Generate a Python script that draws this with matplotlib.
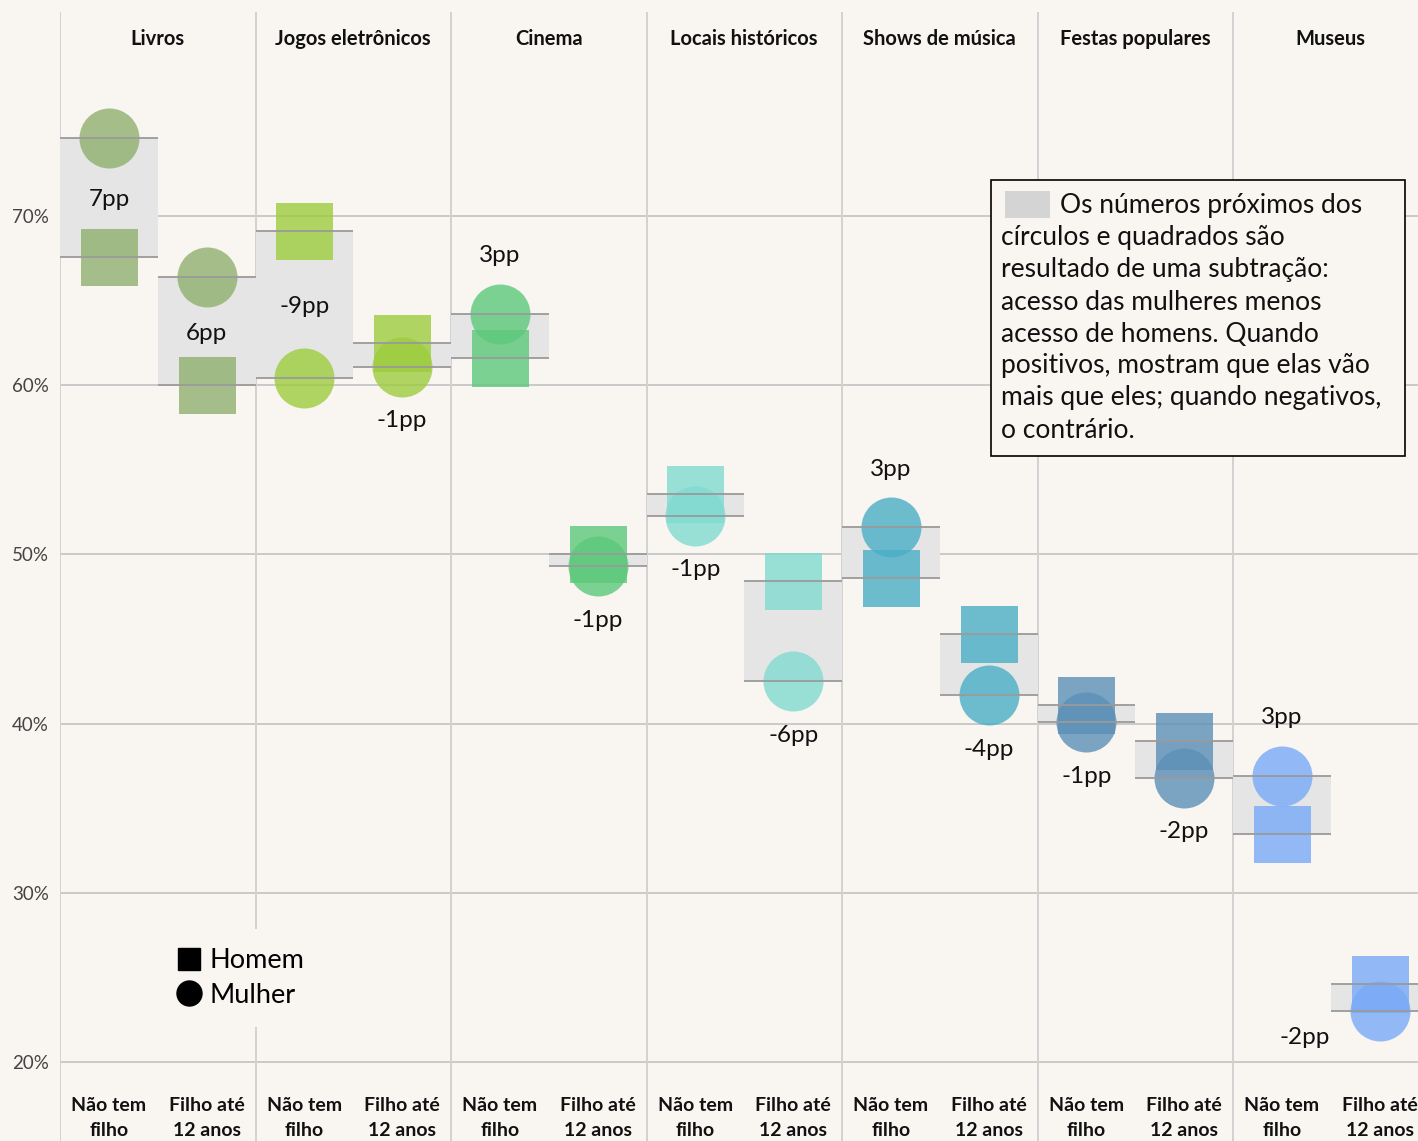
import matplotlib
matplotlib.use('Agg')
import matplotlib.pyplot as plt
from matplotlib.patches import Rectangle
from matplotlib.lines import Line2D

# dados
categorias = ['Livros', 'Jogos eletrônicos', 'Cinema', 'Locais históricos',
              'Shows de música', 'Festas populares', 'Museus']
grupos = ['Não tem\nfilho', 'Filho até\n12 anos']

# acesso (%) -> [não tem filho, filho até 12 anos]
homem = [[67.6, 60.0], [69.1, 62.5], [61.6, 50.0], [53.6, 48.4],
         [48.6, 45.3], [41.1, 39.0], [33.5, 24.6]]
mulher = [[74.6, 66.4], [60.4, 61.1], [64.2, 49.3], [52.3, 42.5],
          [51.6, 41.7], [40.1, 36.8], [36.9, 23.0]]

cores = ['#8fb06f', '#9dcc3e', '#5cc97a', '#80dad0', '#4aaec6', '#5c8fb7', '#79a9f7']

# onde fica o rótulo de cada diferença
pos_rotulo = ['mid', 'mid', 'mid', 'below', 'above', 'below', 'below',
              'below', 'above', 'below', 'below', 'below', 'above', 'left']

yticks = [20, 30, 40, 50, 60, 70]

nota = ['Os números próximos dos',
        'círculos e quadrados são',
        'resultado de uma subtração:',
        'acesso das mulheres menos',
        'acesso de homens. Quando',
        'positivos, mostram que elas vão',
        'mais que eles; quando negativos,',
        'o contrário.']

# figura
W, H = 1418, 1141
bg = '#f9f5f1'
plt.rcParams['font.family'] = ['Lato', 'DejaVu Sans']
fig = plt.figure(figsize=(W / 100, H / 100), dpi=100, facecolor=bg)
ax = fig.add_axes([60 / W, 0, 1368.5 / W, 1129 / H])
ax.set_facecolor(bg)
ax.set_xlim(-0.5, 13.5)
ax.set_ylim(15.33, 82.06)
PT = 0.72  # pt por px

for v in yticks:
    ax.axhline(v, color='#c9c9c9', lw=1.4, zorder=0)
for k in range(8):
    ax.axvline(2 * k - 0.5, color='#d2d2d2', lw=1.4, zorder=0)

ax.set_xticks([])
ax.set_yticks(yticks)
ax.set_yticklabels([f'{v}%' for v in yticks], fontsize=13.5, color='#444444')
ax.tick_params(axis='y', length=0, pad=8)
for s in ax.spines.values():
    s.set_visible(False)

for i, cat in enumerate(categorias):
    ax.text(2 * i + 0.5, 80.45, cat, ha='center', va='center', fontsize=14.5,
            fontweight='bold', color='#111111')
    for j in range(2):
        x = 2 * i + j
        h = homem[i][j]
        m = mulher[i][j]
        lo, hi = min(h, m), max(h, m)
        ax.add_patch(Rectangle((x - 0.5, lo), 1, hi - lo, fc='#e5e5e5', ec='none', zorder=1))
        ax.hlines([lo, hi], x - 0.5, x + 0.5, color='#9a9a9a', lw=1.3, zorder=4)
        ax.scatter(x, h, marker='s', s=(57 * PT) ** 2, color=cores[i], alpha=0.8, lw=0, zorder=3)
        ax.scatter(x, m, marker='o', s=(60 * PT) ** 2, color=cores[i], alpha=0.8, lw=0, zorder=3)

        diff = round(m - h)
        txt = f'{diff}pp'
        p = pos_rotulo[2 * i + j]
        if p == 'mid':
            xy, off = (x, (lo + hi) / 2), (0, -1.5)
        elif p == 'above':
            xy, off = (x, hi), (0, 42)
        elif p == 'below':
            xy, off = (x, lo), (0, -39)
        else:
            xy, off = (x, lo), (-54, -19)
        ax.annotate(txt, xy, xytext=off, textcoords='offset points', ha='center',
                    va='center', fontsize=17.5, color='#111111', zorder=5)

        ax.text(x, 16.7, grupos[j], ha='center', va='center', fontsize=14,
                fontweight='bold', color='#111111', linespacing=1.55)

# legenda
hs = [Line2D([], [], marker='s', ls='none', color='black', ms=23 * PT),
      Line2D([], [], marker='o', ls='none', color='black', ms=25 * PT)]
fig.legend(hs, ['Homem', 'Mulher'], loc='center left',
           bbox_to_anchor=(143 / W, 1 - 978 / H), frameon=True, facecolor=bg,
           edgecolor='none', framealpha=1, fontsize=19.5, handletextpad=0.25,
           labelspacing=0.35, borderpad=0.7, handlelength=1.0)

# nota explicativa
fig.add_artist(Rectangle((991 / W, 1 - 456 / H), 414 / W, 276 / H, transform=fig.transFigure,
                         fc=bg, ec='black', lw=1.2, zorder=10))
fig.add_artist(Rectangle((1005 / W, 1 - 218 / H), 45 / W, 27 / H, transform=fig.transFigure,
                         fc='#d4d4d4', ec='none', zorder=11))
for n, linha in enumerate(nota):
    x0 = 1060 if n == 0 else 1001
    fig.text(x0 / W, 1 - (206 + 32 * n) / H, linha, ha='left', va='center',
             fontsize=19, color='#111111', zorder=12)

fig.savefig('out.png', dpi=100, facecolor=bg)
